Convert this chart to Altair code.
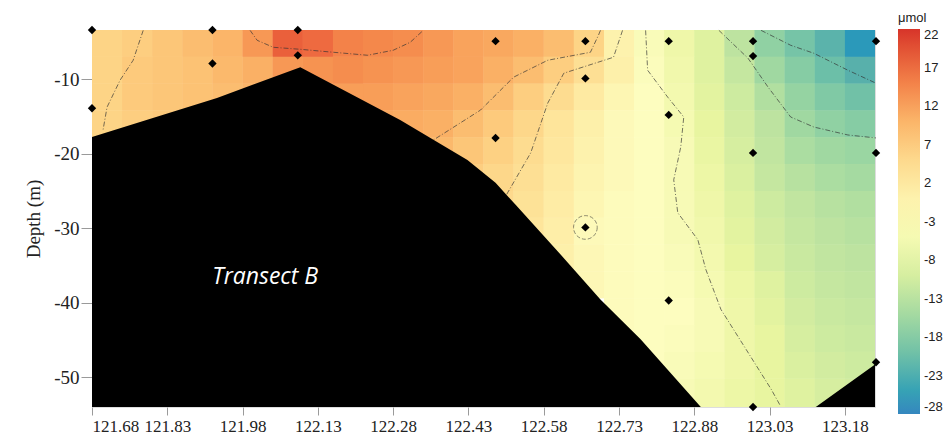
import altair as alt
import pandas as pd

# ---------------- data ----------------
LON0 = 121.68
LON_STEP = 0.06          # 26 columns
DEPTH_TOP = -3.4
DEPTH_STEP = 3.6         # 14 rows
DEPTH_BOTTOM = -54.0

N = None
row0 = [6, 7, 8, 9, 10, 13, 18, 17, 15, 14.5, 14, 13, 12, 11.5, 10.5, 9, 6, 0, -4, -6.5, -9, -13, -17, -19.5, -22.5, -26]
row1 = [6, 7.5, 8, 8.5, 9.5, 10.5, 13, 13.5, 14, 13.5, 13, 12.5, 12, 10.5, 9, 7, 4, 0.5, -3.5, -6, -9, -12, -15.5, -18, -20.5, -23]
row2 = [6, 7.5, 8, 8.5, 9, 10, N, 12, 12.5, 12.5, 12, 11.5, 10.5, 9, 7, 4.5, 2, -1, -3, -5.5, -8.5, -11, -14, -16.5, -18.5, -20]
row3 = [6, 7, 7.5, N, N, N, N, N, N, 11.5, 11, 10.5, 9, 7.5, 5.5, 3, 0.5, -2, -3, -5, -8, -10.5, -13, -15.5, -17, -18]
row4 = [N, N, N, N, N, N, N, N, N, N, N, 9.5, 8, 6.5, 4.5, 2.5, 0, -2, -3, -4.5, -7.5, -10, -12.5, -14.5, -15.5, -16]
row5 = [N, N, N, N, N, N, N, N, N, N, N, N, 7, 5.5, 4, 2, -0.5, -2, -3, -4.5, -7, -9.5, -12, -13.5, -14.5, -15]
row6 = [N, N, N, N, N, N, N, N, N, N, N, N, N, 5, 3.5, 1.5, -1, -2.5, -3, -4.5, -6.5, -9, -11, -12.5, -13.5, -14]
row7 = [N, N, N, N, N, N, N, N, N, N, N, N, N, N, 3, 1, -2, -2.5, -3, -4.5, -6, -8.5, -10.5, -12, -13, -13.5]
row8 = [N, N, N, N, N, N, N, N, N, N, N, N, N, N, N, 0.5, -1.5, -2.5, -3, -4, -5.5, -8, -10, -11.5, -12.5, -13]
row9 = [N, N, N, N, N, N, N, N, N, N, N, N, N, N, N, N, -1.5, -2.5, -3, -3.5, -5, -7, -9, -11, -12, -12.5]
row10 = [N, N, N, N, N, N, N, N, N, N, N, N, N, N, N, N, N, -2.5, -3, -3, -4.5, -6.5, -8.5, -10.5, -11.5, -12]
row11 = [N, N, N, N, N, N, N, N, N, N, N, N, N, N, N, N, N, -2.5, -3, -3.5, -4.5, -6.5, -8, -10, -11, -11.5]
row12 = [N, N, N, N, N, N, N, N, N, N, N, N, N, N, N, N, N, N, -3, -4, -5, -6.5, -8, -9.5, -10.5, -11]
row13 = [N, N, N, N, N, N, N, N, N, N, N, N, N, N, N, N, N, N, N, -4.5, -5.5, -7, -8, -9, -10, -10.5]
field_rows = [row0, row1, row2, row3, row4, row5, row6, row7, row8, row9, row10, row11, row12, row13]

# bathymetry profile (black)
bottom_lon = [121.68, 121.929, 122.095, 122.294, 122.428, 122.484, 122.524, 122.614, 122.693, 122.773, 122.893, 123.122, 123.24]
bottom_depth = [-17.76, -12.54, -8.39, -15.49, -20.84, -23.91, -26.86, -33.55, -39.57, -44.92, -54.0, -54.0, -48.3]

# stations
st_lon = [121.68, 121.68, 121.92, 121.92, 122.09, 122.09, 122.484, 122.484, 122.663, 122.663, 122.663,
          122.829, 122.829, 122.829, 122.997, 122.997, 122.997, 122.997, 123.242, 123.242, 123.242]
st_depth = [-3.4, -13.9, -3.4, -7.9, -3.4, -6.8, -4.9, -17.9, -4.9, -9.9, -29.9,
            -4.9, -14.8, -39.7, -4.9, -6.9, -19.9, -54.0, -4.9, -19.9, -48.0]

# contour lines (dashed)
c_left_lon = [121.782, 121.762, 121.736, 121.710, 121.702]
c_left_dep = [-3.45, -7.46, -10.13, -13.75, -16.82]
c_arc_lon = [121.995, 122.009, 122.041, 122.095, 122.161, 122.229, 122.280, 122.314, 122.340]
c_arc_dep = [-3.45, -4.78, -5.72, -5.99, -6.39, -6.79, -6.12, -5.05, -3.45]
c_a_lon = [122.693, 122.689, 122.673, 122.588, 122.520, 122.454, 122.354]
c_a_dep = [-3.45, -4.11, -6.39, -7.46, -9.73, -14.15, -18.43]
c_b_lon = [122.737, 122.719, 122.620, 122.588, 122.554, 122.508, 122.498]
c_b_dep = [-3.45, -7.06, -9.20, -13.21, -19.90, -25.25, -26.5]
c_c_lon = [122.783, 122.787, 122.827, 122.859, 122.853, 122.839, 122.847, 122.887, 122.903, 122.933, 122.983, 123.033, 123.052]
c_c_dep = [-3.45, -8.80, -12.41, -15.08, -19.10, -23.51, -27.93, -31.54, -35.55, -40.90, -46.25, -51.6, -53.9]
c_d_lon = [122.929, 122.987, 123.027, 123.072, 123.118, 123.186, 123.242]
c_d_dep = [-3.45, -7.19, -11.07, -15.08, -16.42, -17.49, -17.89]
c_e_lon = [123.013, 123.072, 123.118, 123.186, 123.242]
c_e_dep = [-3.45, -5.45, -6.52, -8.80, -10.54]
contours = {"L": (c_left_lon, c_left_dep), "arc": (c_arc_lon, c_arc_dep), "A": (c_a_lon, c_a_dep),
            "B": (c_b_lon, c_b_dep), "C": (c_c_lon, c_c_dep), "D": (c_d_lon, c_d_dep), "E": (c_e_lon, c_e_dep)}

x_ticks = [121.68, 121.83, 121.98, 122.13, 122.28, 122.43, 122.58, 122.73, 122.88, 123.03, 123.18]
y_ticks = [-10, -20, -30, -40, -50]
legend_ticks = [22, 17, 12, 7, 2, -3, -8, -13, -18, -23, -28]
color_domain = [-28, -23, -18, -13, -8, -3, 2, 7, 12, 17, 22]
color_range = ["#3587bf", "#58b0ab", "#86cca4", "#bde3a0", "#e8f5a0", "#fdfdbf",
               "#feeaa2", "#fdce80", "#f9a35c", "#ee6a40", "#d7342a"]

# ---------------- build tables ----------------
cells = []
n_rows = len(field_rows)
for i, row in enumerate(field_rows):
    top = DEPTH_TOP - DEPTH_STEP * i
    bot = DEPTH_BOTTOM if i == n_rows - 1 else DEPTH_TOP - DEPTH_STEP * (i + 1)
    for j, v in enumerate(row):
        if v is None:
            continue
        cells.append({"x": LON0 + LON_STEP * j, "x2": LON0 + LON_STEP * (j + 1), "y": top, "y2": bot, "v": v})
cells = pd.DataFrame(cells)

bathy = pd.DataFrame({"lon": bottom_lon, "depth": bottom_depth})
stations = pd.DataFrame({"lon": st_lon, "depth": st_depth})
cont_rows = []
for name, (lo, de) in contours.items():
    for k, (a, b) in enumerate(zip(lo, de)):
        cont_rows.append({"line": name, "k": k, "lon": a, "depth": b})
cont = pd.DataFrame(cont_rows)

hyphen = "replace(datum.label, '\u2212', '-')"
xs = alt.Scale(domain=[121.68, 123.24], nice=False, zero=False)
ys = alt.Scale(domain=[-54, -3.4], nice=False, zero=False)
cscale = alt.Scale(domain=color_domain, range=color_range)

field = alt.Chart(cells).mark_rect().encode(
    x=alt.X("x:Q", scale=xs, axis=alt.Axis(values=x_ticks, format=".2f", title=None, domain=False,
                                          grid=False, tickColor="#9a9a9a", tickSize=8, labelPadding=3,
                                          labelFont="Liberation Serif", labelFontSize=17, labelColor="#222")),
    x2="x2:Q",
    y=alt.Y("y:Q", scale=ys, axis=alt.Axis(values=y_ticks, title="Depth (m)", domain=False, grid=False,
                                          tickColor="#9a9a9a", tickSize=11, labelPadding=2, labelExpr=hyphen,
                                          labelFont="Liberation Serif", labelFontSize=19, labelColor="#222",
                                          titleFont="Liberation Serif", titleFontSize=19, titleFontWeight="normal",
                                          titleColor="#222", titlePadding=10)),
    y2="y2:Q",
    color=alt.Color("v:Q", scale=cscale,
                    legend=alt.Legend(type="gradient", title="μmol", orient="none", legendX=806, legendY=-18,
                                      direction="vertical",
                                      gradientLength=385, gradientThickness=22, values=legend_ticks,
                                      labelOverlap=False, labelFont="Liberation Sans", labelFontSize=13,
                                      labelColor="#222", titleFont="Liberation Sans", titleFontSize=13,
                                      titleFontWeight="normal", titleColor="#222", titlePadding=4,
                                      labelOffset=4, labelExpr=hyphen)),
)

# same cells drawn a second time, to hide anti-aliasing seams between neighbours
field2 = alt.Chart(cells).mark_rect().encode(
    x=alt.X("x:Q", scale=xs), x2="x2:Q", y=alt.Y("y:Q", scale=ys), y2="y2:Q",
    color=alt.Color("v:Q", scale=cscale),
)

lines = alt.Chart(cont).mark_line(color="#333", strokeWidth=0.8, strokeDash=[5, 2, 1, 2], opacity=0.85).encode(
    x=alt.X("lon:Q", scale=xs), y=alt.Y("depth:Q", scale=ys), detail="line:N", order="k:Q")

ground = alt.Chart(bathy).mark_area(color="black", opacity=1).encode(
    x=alt.X("lon:Q", scale=xs), y=alt.Y("depth:Q", scale=ys), y2=alt.datum(-54))

ring = alt.Chart(stations.iloc[[10]]).mark_point(shape="circle", size=560, filled=False, color="#333",
                                                 strokeWidth=0.8, strokeDash=[4, 2]).encode(
    x=alt.X("lon:Q", scale=xs), y=alt.Y("depth:Q", scale=ys))

pts = alt.Chart(stations).mark_point(shape="diamond", size=70, filled=True, color="black", opacity=1).encode(
    x=alt.X("lon:Q", scale=xs), y=alt.Y("depth:Q", scale=ys))

label = alt.Chart(pd.DataFrame({"lon": [122.025], "depth": [-36.6], "t": ["Transect B"]})).mark_text(
    color="white", fontStyle="italic", fontSize=23, font="Open Sans").encode(
    x=alt.X("lon:Q", scale=xs), y=alt.Y("depth:Q", scale=ys), text="t:N")

chart = alt.layer(field, field2, lines, ground, ring, pts, label).properties(
    width=783, height=377,
    autosize=alt.AutoSizeParams(type="none"),
    padding={"left": 92, "top": 30, "right": 70, "bottom": 32},
).configure_view(stroke=None).configure(background="white")

chart.save("out.html", embed_options={"renderer": "svg", "actions": False})
